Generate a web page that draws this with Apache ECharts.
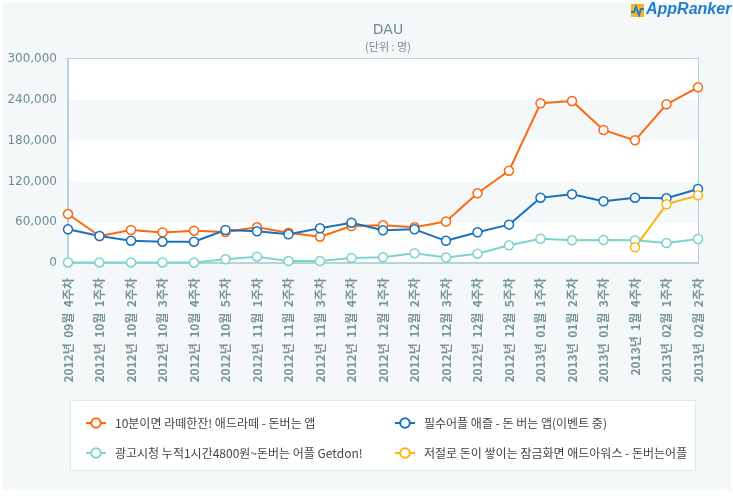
<!DOCTYPE html>
<html><head><meta charset="utf-8">
<script src="https://cdn.jsdelivr.net/npm/echarts@6/dist/echarts.min.js"></script>
<style>html,body{margin:0;padding:0;background:#fff}#c{width:733px;height:500px}</style>
</head><body><div id="c"></div>
<script>
const categories = ['2012년  09월  4주차','2012년  10월  1주차','2012년  10월  2주차','2012년  10월  3주차','2012년  10월  4주차','2012년  10월  5주차','2012년  11월  1주차','2012년  11월  2주차','2012년  11월  3주차','2012년  11월  4주차','2012년  12월  1주차','2012년  12월  2주차','2012년  12월  3주차','2012년  12월  4주차','2012년  12월  5주차','2013년  01월  1주차','2013년  01월  2주차','2013년  01월  3주차','2013년  1월  4주차','2013년  02월  1주차','2013년  02월  2주차'];
const seriesNames = ['10분이면 라떼한잔! 애드라떼 - 돈버는 앱','필수어플 애즐 - 돈 버는 앱(이벤트 중)','광고시청 누적1시간4800원~돈버는 어플 Getdon!','저절로 돈이 쌓이는 잠금화면 애드아워스 - 돈버는어플'];
const adlatte = [72000,39700,48500,45000,47500,45500,52500,44500,38700,54400,55400,52500,61000,102500,135700,234800,238200,195600,180400,233300,258300];
const aezzle = [49500,39700,32800,31300,31300,48500,46600,42200,51000,59300,48100,49500,32600,45100,56400,96000,101000,90700,96000,95100,108800];
const getdon = [800,800,800,800,800,5400,9300,2900,2900,7400,8400,14300,8100,13700,26000,35700,33400,33800,33400,29400,35300];
const adhours = [null,null,null,null,null,null,null,null,null,null,null,null,null,null,null,null,null,null,23100,86300,99500];
const yTicks = [0,60000,120000,180000,240000,300000];
const colors = ['#fa6a12','#1a72bd','#7dd4cb','#ffb30f'];

const chart = echarts.init(document.getElementById('c'));
const mk = (name, data, color) => ({
  name, type:'line', data, connectNulls:false,
  symbol:'circle', symbolSize:9,
  lineStyle:{color, width:2},
  itemStyle:{color:'#fff', borderColor:color, borderWidth:1.5},
  emphasis:{disabled:true}, animation:false
});
chart.setOption({
  backgroundColor:'#fff',
  animation:false,
  graphic:[
    {type:'rect', shape:{x:3,y:3,width:728,height:487}, style:{fill:'#f4f8f9'}, z:-10},
    {type:'rect', shape:{x:70.5,y:400.5,width:625,height:70}, style:{fill:'#fff', stroke:'#d9ebea', lineWidth:1}, z:-5},
    {type:'rect', shape:{x:631,y:4,width:13,height:13}, style:{fill:'#f7b321'}},
    {type:'polyline', shape:{points:[[631,12],[634,12],[636,7],[639,15],[641,9],[644,9]]}, style:{stroke:'#1e7fd0', lineWidth:2, fill:null}},
    {type:'text', left:646, top:2, style:{text:'AppRanker', fill:'#1e7fd0', font:'italic bold 16px "Liberation Sans", sans-serif'}}
  ],
  title:{
    text:'DAU', subtext:'(단위 : 명)', left:383, textAlign:'center', top:18, itemGap:4,
    textStyle:{color:'#6e8a90', fontSize:14, fontWeight:'normal', fontFamily:'"DejaVu Sans", sans-serif'},
    subtextStyle:{color:'#7a8d90', fontSize:11, fontFamily:'"Noto Sans CJK KR", sans-serif'}
  },
  grid:{left:68, right:35, top:59, bottom:237, show:true, borderColor:'#b5d3d9', borderWidth:2, backgroundColor:'transparent'},
  legend:[
    {orient:'vertical', left:80, top:412, itemGap:18, itemWidth:20, itemHeight:12,
     data:[seriesNames[0], seriesNames[2]],
     textStyle:{color:'#444', fontSize:12, fontFamily:'"Noto Sans CJK KR", sans-serif', padding:[0,0,0,4]}},
    {orient:'vertical', left:389, top:412, itemGap:18, itemWidth:20, itemHeight:12,
     data:[seriesNames[1], seriesNames[3]],
     textStyle:{color:'#444', fontSize:12, fontFamily:'"Noto Sans CJK KR", sans-serif', padding:[0,0,0,4]}}
  ],
  xAxis:{
    type:'category', data:categories, boundaryGap:false,
    axisLine:{lineStyle:{color:'#b5d3d9', width:2}},
    axisTick:{show:false},
    axisLabel:{rotate:90, margin:15, interval:0, color:'#7a9599', fontSize:12, fontWeight:'bold', fontFamily:'"Noto Sans CJK KR", sans-serif'},
    splitLine:{show:false}
  },
  yAxis:{
    type:'value', min:yTicks[0], max:yTicks[yTicks.length-1], interval:60000,
    axisLine:{show:true, lineStyle:{color:'#b5d3d9', width:2}},
    axisTick:{show:false},
    axisLabel:{margin:11, color:'#6f8c92', fontSize:12, fontFamily:'"DejaVu Sans", sans-serif',
      formatter:v => v.toLocaleString('en-US')},
    splitLine:{show:false},
    splitArea:{show:true, areaStyle:{color:['#ffffff','#f4f8f9']}}
  },
  series:[
    mk(seriesNames[0], adlatte, colors[0]),
    mk(seriesNames[1], aezzle, colors[1]),
    mk(seriesNames[2], getdon, colors[2]),
    mk(seriesNames[3], adhours, colors[3])
  ]
});
</script></body></html>
